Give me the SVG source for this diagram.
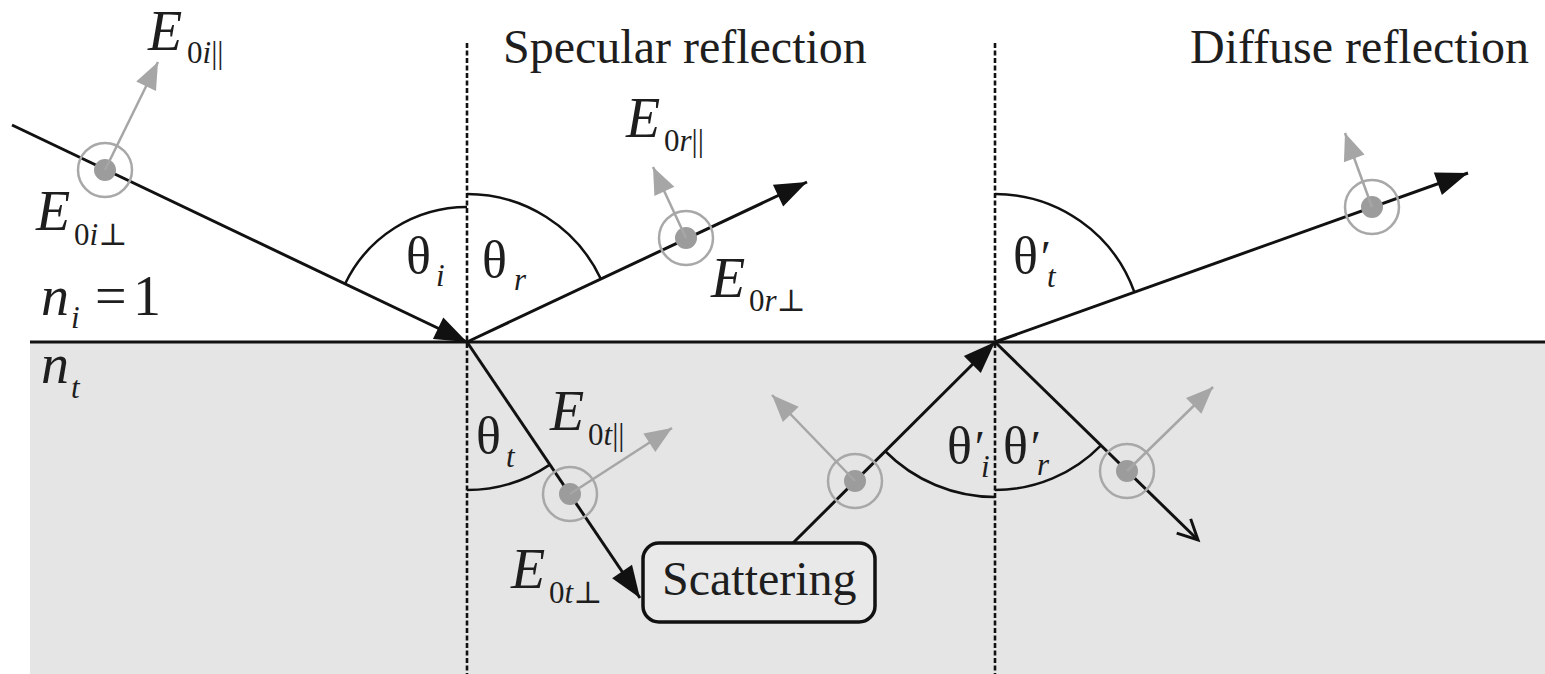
<svg xmlns="http://www.w3.org/2000/svg" width="1545" height="674" viewBox="0 0 1545 674">
<style>
.ray{stroke:#111;stroke-width:3;fill:none}
.arc{stroke:#111;stroke-width:2.5;fill:none}
.pol{stroke:#a6a6a6;stroke-width:2.5;fill:none}
.ring{fill:none;stroke:#a8a8a8;stroke-width:2.5}
.dot{fill:#9c9c9c}
.norm{stroke:#111;stroke-width:2.6;stroke-dasharray:5 2.5;fill:none}
text{font-family:"Liberation Serif","DejaVu Serif",serif;fill:#1e1e1e}
.big{font-size:56px;font-style:italic}
.th{font-size:52px}
.sub{font-size:31px}
.it{font-style:italic}
.ttl{font-size:48px}
.pr{font-size:46px;font-style:italic}
</style>
<defs>
<marker id="ah" markerUnits="userSpaceOnUse" markerWidth="34" markerHeight="26" refX="32" refY="12" orient="auto" overflow="visible"><path d="M0,0 L32,12 L0,24 z" fill="#111"/></marker>
<marker id="gh" markerUnits="userSpaceOnUse" markerWidth="28" markerHeight="24" refX="27" refY="11" orient="auto" overflow="visible"><path d="M0,0 L27,11 L0,22 z" fill="#a6a6a6"/></marker>
<marker id="oh" markerUnits="userSpaceOnUse" markerWidth="26" markerHeight="24" refX="22" refY="11" orient="auto" overflow="visible"><path d="M2,1 L22,11 L2,21" fill="none" stroke="#111" stroke-width="3"/></marker>
</defs>

<g id="media">
<rect x="30" y="342" width="1515" height="332" fill="#e5e5e5"/>
<line x1="30" y1="342" x2="1545" y2="342" stroke="#111" stroke-width="3"/>
<line class="norm" x1="467" y1="43" x2="467" y2="674"/>
<line class="norm" x1="995" y1="43" x2="995" y2="674"/>
</g>

<g id="arcs">
<path class="arc" d="M345.1,283.8 A135,135 0 0 1 467,207"/>
<path class="arc" d="M467,194 A148,148 0 0 1 600.9,279"/>
<path class="arc" d="M467,490 A148,148 0 0 0 549.9,464.6"/>
<path class="arc" d="M885,451 A155,155 0 0 0 995,497"/>
<path class="arc" d="M995,490 A148,148 0 0 0 1101,445.3"/>
<path class="arc" d="M995,194 A148,148 0 0 1 1134.4,292.2"/>
</g>

<g id="scattering">
<rect x="643" y="543" width="232" height="79" rx="16" fill="#e9e9e9" stroke="#111" stroke-width="3.5"/>
<text class="ttl" x="662" y="595">Scattering</text>
</g>

<g id="connectors">
<line class="ray" x1="12" y1="125" x2="467" y2="342" marker-end="url(#ah)"/>
<line class="ray" x1="467" y1="342" x2="807" y2="182" marker-end="url(#ah)"/>
<line class="ray" x1="467" y1="342" x2="640" y2="598" marker-end="url(#ah)"/>
<line class="ray" x1="793" y1="543" x2="995" y2="342" marker-end="url(#ah)"/>
<line class="ray" x1="995" y1="342" x2="1198" y2="540" marker-end="url(#oh)"/>
<line class="ray" x1="995" y1="342" x2="1468" y2="173" marker-end="url(#ah)"/>
</g>

<g id="pol-incident">
<circle class="ring" cx="105" cy="170" r="27"/><circle class="dot" cx="105" cy="170" r="11"/>
<line class="pol" x1="105" y1="170" x2="158" y2="62" marker-end="url(#gh)"/>
</g>
<g id="pol-reflected">
<circle class="ring" cx="686" cy="238" r="27"/><circle class="dot" cx="686" cy="238" r="11"/>
<line class="pol" x1="686" y1="238" x2="653" y2="167" marker-end="url(#gh)"/>
</g>
<g id="pol-transmitted">
<circle class="ring" cx="570" cy="494" r="27"/><circle class="dot" cx="570" cy="494" r="11"/>
<line class="pol" x1="570" y1="494" x2="672" y2="428" marker-end="url(#gh)"/>
</g>
<g id="pol-scattered">
<circle class="ring" cx="855" cy="481" r="27"/><circle class="dot" cx="855" cy="481" r="11"/>
<line class="pol" x1="855" y1="481" x2="772" y2="395" marker-end="url(#gh)"/>
</g>
<g id="pol-internal">
<circle class="ring" cx="1127" cy="471" r="27"/><circle class="dot" cx="1127" cy="471" r="11"/>
<line class="pol" x1="1127" y1="471" x2="1213" y2="387" marker-end="url(#gh)"/>
</g>
<g id="pol-diffuse">
<circle class="ring" cx="1372" cy="207" r="27"/><circle class="dot" cx="1372" cy="207" r="11"/>
<line class="pol" x1="1372" y1="207" x2="1345" y2="133" marker-end="url(#gh)"/>
</g>

<g id="titles">
<text class="ttl" x="503" y="63">Specular reflection</text>
<text class="ttl" x="1190" y="63">Diffuse reflection</text>
</g>

<g id="labels">
<text class="big" x="148" y="50">E</text><text class="sub" x="187" y="63">0<tspan class="it">i</tspan>||</text>
<text class="big" x="36" y="230">E</text><text class="sub" x="74" y="245">0<tspan class="it">i</tspan>⊥</text>
<text class="big" x="626" y="137">E</text><text class="sub" x="664" y="151">0<tspan class="it">r</tspan>||</text>
<text class="big" x="711" y="297">E</text><text class="sub" x="749" y="311">0<tspan class="it">r</tspan>⊥</text>
<text class="big" x="550" y="430">E</text><text class="sub" x="588" y="445">0<tspan class="it">t</tspan>||</text>
<text class="big" x="511" y="588">E</text><text class="sub" x="549" y="603">0<tspan class="it">t</tspan>⊥</text>

<text class="big" x="41" y="315">n</text><text class="sub it" x="71" y="328">i</text>
<text style="font-size:56px" x="95" y="315">=</text><text style="font-size:56px" x="133" y="315">1</text>
<text class="big" x="41" y="383">n</text><text class="sub it" x="71" y="398">t</text>

<text class="th" x="406" y="273">θ</text><text class="sub it" x="436" y="286">i</text>
<text class="th" x="482" y="277">θ</text><text class="sub it" x="514" y="290">r</text>
<text class="th" x="476" y="453">θ</text><text class="sub it" x="506" y="467">t</text>
<text class="th" x="947" y="463">θ<tspan class="pr">′</tspan><tspan class="sub it" dy="14" dx="-1">i</tspan></text>
<text class="th" x="1003" y="463">θ<tspan class="pr">′</tspan><tspan class="sub it" dy="12" dx="-1">r</tspan></text>
<text class="th" x="1013" y="273">θ<tspan class="pr">′</tspan><tspan class="sub it" dy="14" dx="-1">t</tspan></text>
</g>
</svg>
